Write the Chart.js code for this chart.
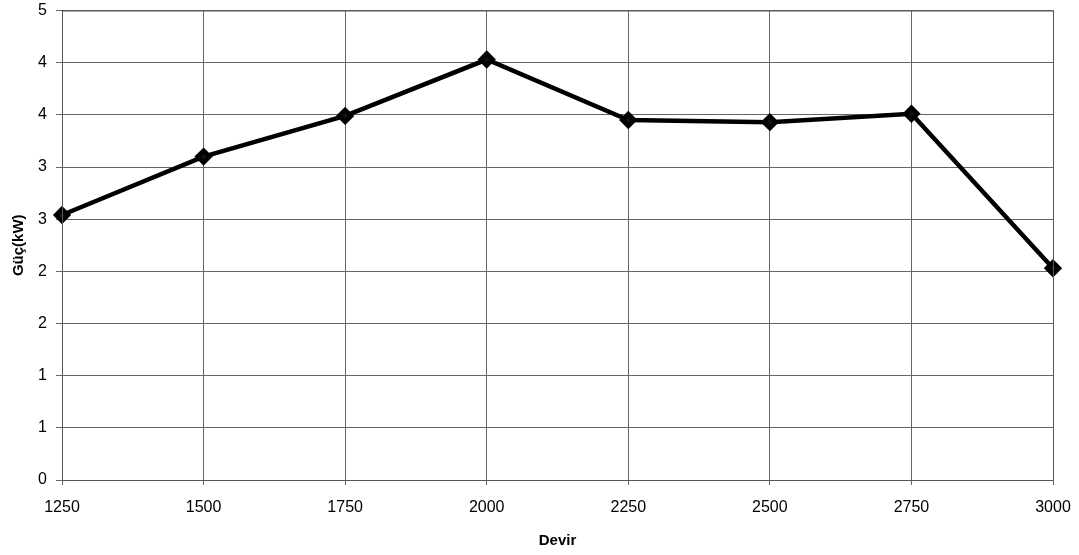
<!DOCTYPE html>
<html>
<head>
<meta charset="utf-8">
<script src="https://cdn.jsdelivr.net/npm/chart.js@4/dist/chart.umd.min.js"></script>
<style>
    html, body { margin: 0; padding: 0; background: #fff; }
    #wrap { width: 1079px; height: 555px; }
</style>
</head>
<body>
<div id="wrap"><canvas id="chart"></canvas></div>
<script>
// data
const devir = ['1250', '1500', '1750', '2000', '2250', '2500', '2750', '3000'];
const guc = [2.54, 3.10, 3.49, 4.03, 3.45, 3.43, 3.51, 2.03];
const yMin = 0;
const yMax = 4.5;
const yStep = 0.5;

const tickFont = { family: 'Liberation Sans, Arial, sans-serif', size: 16 };
const titleFont = { family: 'Liberation Sans, Arial, sans-serif', size: 15, weight: 'bold' };

// plot frame border
const framePlugin = {
    id: 'frame',
    afterDraw(chart) {
        const { ctx, chartArea: a } = chart;
        ctx.save();
        ctx.strokeStyle = '#555';
        ctx.lineWidth = 1;
        ctx.strokeRect(a.left + 0.5, a.top + 0.5, a.right - a.left, a.bottom - a.top);
        ctx.restore();
    }
};

new Chart(document.getElementById('chart'), {
    type: 'line',
    data: {
        labels: devir,
        datasets: [{
            data: guc,
            borderColor: '#000',
            borderWidth: 4.5,
            backgroundColor: '#000',
            pointStyle: 'rectRot',
            pointRadius: 6,
            pointBackgroundColor: '#111',
            pointBorderColor: '#000',
            tension: 0,
            fill: false
        }]
    },
    options: {
        responsive: true,
        maintainAspectRatio: false,
        animation: false,
        layout: { padding: { top: 10, right: 26, bottom: 0, left: 0 } },
        plugins: {
            legend: { display: false },
            tooltip: { enabled: false }
        },
        scales: {
            x: {
                offset: false,
                grid: { color: '#666', lineWidth: 1, tickLength: 5, drawTicks: true },
                border: { color: '#222' },
                ticks: { color: '#000', font: tickFont, padding: 13, maxRotation: 0, autoSkip: false },
                title: { display: true, text: 'Devir', color: '#000', font: titleFont, padding: { top: 0, bottom: 5 } },
                afterFit(scale) {
                    scale.height = 75;
                    scale.paddingLeft = 0;
                    scale.paddingRight = 0;
                }
            },
            y: {
                min: yMin,
                max: yMax,
                grid: { color: '#666', lineWidth: 1, tickLength: 6, drawTicks: true },
                border: { color: '#222' },
                ticks: {
                    stepSize: yStep,
                    color: '#000',
                    font: tickFont,
                    padding: 9,
                    callback: (v) => Math.round(v)
                },
                title: { display: true, text: 'Güç(kW)', color: '#000', font: titleFont, padding: { top: 10, bottom: 0 } },
                afterFit(scale) {
                    scale.width = 62;
                    scale.paddingTop = 0;
                    scale.paddingBottom = 0;
                }
            }
        }
    },
    plugins: [framePlugin]
});
</script>
</body>
</html>
